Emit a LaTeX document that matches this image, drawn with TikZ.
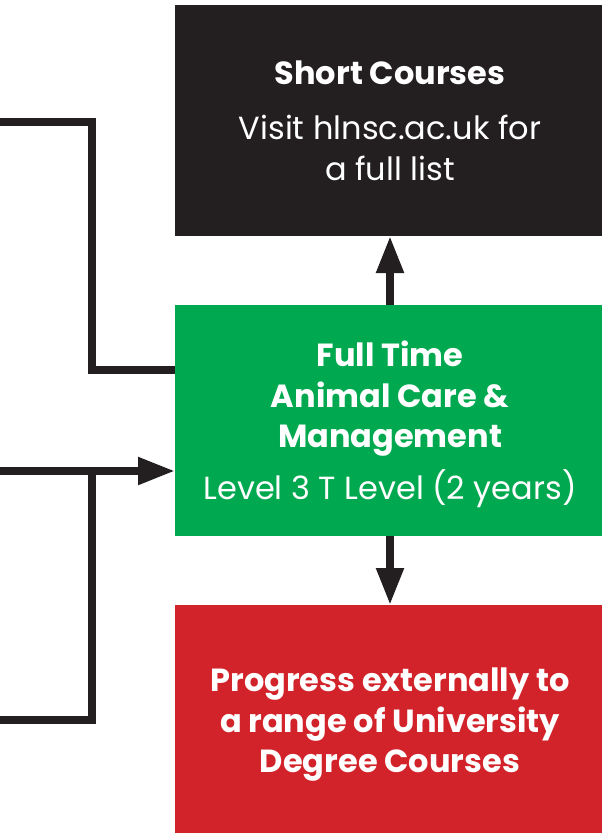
\documentclass[tikz,border=0pt]{standalone}
\usepackage{fontspec}
\setmainfont{Poppins}
\usepackage{xcolor}
\usetikzlibrary{positioning,arrows.meta}
\definecolor{boxblack}{HTML}{231F20}
\definecolor{boxgreen}{HTML}{00A94F}
\definecolor{boxred}{HTML}{D3232A}
\begin{document}
\begin{tikzpicture}[x=1pt, y=1pt,
	course/.style={minimum width=430pt, minimum height=231pt, inner sep=0pt, outer sep=0pt, align=center, text=white, text depth=0pt, font=\fontsize{32}{40.5}\selectfont},
	link/.style={line width=8pt, color=boxblack},
	arrow/.style={link, -{Triangle[length=37pt, width=26pt]}}]
	\useasboundingbox (0,0) rectangle (602,-833);
	\node[course, fill=boxblack] (short) at (390,-120.5) {{\bfseries Short Courses}\\[14.5pt] Visit hlnsc.ac.uk for\\ a full list};
	\node[course, fill=boxgreen, below=69pt of short] (animal) {\bfseries Full Time\\ \bfseries Animal Care \&\\ \bfseries Management\\[11.5pt] Level 3 T Level (2 years)};
	\node[course, fill=boxred, below=69pt of animal] (degree) {\bfseries Progress externally to\\ \bfseries a range of University\\ \bfseries Degree Courses};
	% entry lines from the left
	\coordinate (inA) at (0,-122);
	\coordinate (inB) at (0,-471);
	\coordinate (inC) at (0,-720);
	\coordinate (joint) at (92,-471);
	\draw[link] (inA) -| (92,-370) -- ([yshift=50.5pt]animal.west);
	\draw[arrow] (inB) -- ([yshift=-50.5pt]animal.west);
	\draw[link] (inC) -| (joint);
	\draw[arrow] (animal) -- (short);
	\draw[arrow] (animal) -- (degree);
\end{tikzpicture}
\end{document}
